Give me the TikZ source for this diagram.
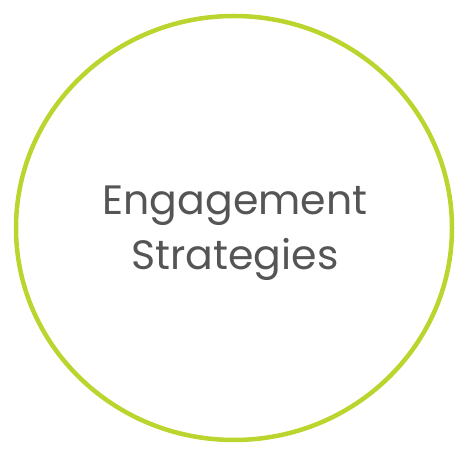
\documentclass[tikz,border=0pt]{standalone}
\usepackage{fontspec}
\setmainfont{Poppins}
\usepackage{tikz}

\definecolor{ringgreen}{HTML}{BCD42E}
\definecolor{textgrey}{HTML}{555555}

\begin{document}
\begin{tikzpicture}[x=1pt,y=1pt]

\useasboundingbox (0,0) rectangle (476,457);

\draw[ringgreen, line width=4.5pt] (234,229) ellipse (218 and 212);

\node (title) [text=textgrey, align=center, font=\fontsize{41}{55}\selectfont] at (235,224) {Engagement\\Strategies};

\end{tikzpicture}
\end{document}
